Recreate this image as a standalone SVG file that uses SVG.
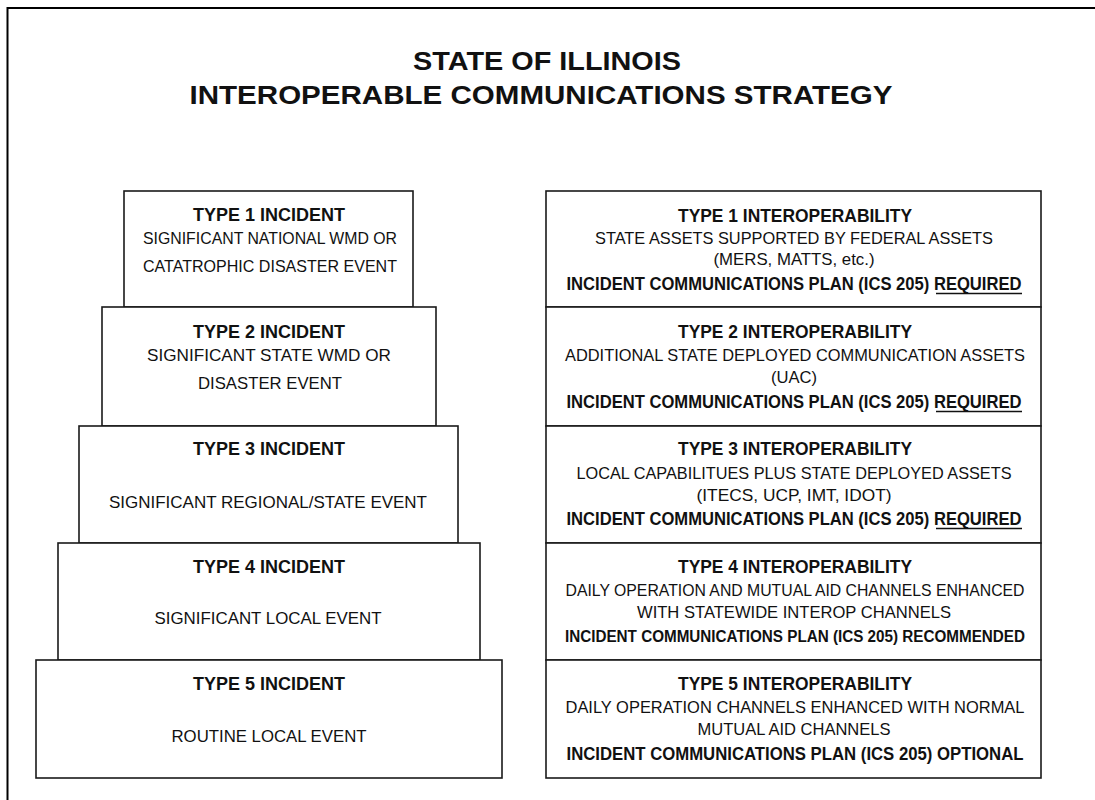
<svg xmlns="http://www.w3.org/2000/svg" width="1095" height="800" viewBox="0 0 1095 800">
<style>
  .bg { fill: #ffffff; }
  .frame { fill: none; stroke: #000; stroke-width: 2; }
  .box { fill: #ffffff; stroke: #1a1a1a; stroke-width: 1.6; }
  text { font-family: "Liberation Sans Narrow", "Liberation Sans", Arial, sans-serif; fill: #111; text-anchor: middle; }
  .title { font-size: 26px; font-weight: bold; }
  .hd { font-size: 19px; font-weight: bold; }
  .bd { font-size: 17px; }
  .bb { font-size: 18px; font-weight: bold; }
  .bs { font-size: 16px; font-weight: bold; }
  .ul { stroke: #111; stroke-width: 1.4; }
</style>
<rect class="bg" x="0" y="0" width="1095" height="800"/>
<rect class="frame" x="7.5" y="8" width="1200" height="900"/>

<g id="title">
  <text class="title" x="547" y="70" textLength="268" lengthAdjust="spacingAndGlyphs">STATE OF ILLINOIS</text>
  <text class="title" x="541" y="104" textLength="703" lengthAdjust="spacingAndGlyphs">INTEROPERABLE COMMUNICATIONS STRATEGY</text>
</g>

<g id="connectors"></g>

<g id="incident1">
  <rect class="box" x="124" y="191" width="289" height="116"/>
  <text class="hd" x="269" y="221" textLength="152" lengthAdjust="spacingAndGlyphs">TYPE 1 INCIDENT</text>
  <text class="bd" x="270" y="244" textLength="254" lengthAdjust="spacingAndGlyphs">SIGNIFICANT NATIONAL WMD OR</text>
  <text class="bd" x="270" y="272" textLength="254" lengthAdjust="spacingAndGlyphs">CATATROPHIC DISASTER EVENT</text>
</g>
<g id="incident2">
  <rect class="box" x="102" y="307" width="334" height="119"/>
  <text class="hd" x="269" y="338" textLength="152" lengthAdjust="spacingAndGlyphs">TYPE 2 INCIDENT</text>
  <text class="bd" x="269" y="361" textLength="244" lengthAdjust="spacingAndGlyphs">SIGNIFICANT STATE WMD OR</text>
  <text class="bd" x="270" y="389" textLength="144" lengthAdjust="spacingAndGlyphs">DISASTER EVENT</text>
</g>
<g id="incident3">
  <rect class="box" x="79" y="426" width="379" height="117"/>
  <text class="hd" x="269" y="455" textLength="152" lengthAdjust="spacingAndGlyphs">TYPE 3 INCIDENT</text>
  <text class="bd" x="268" y="508" textLength="318" lengthAdjust="spacingAndGlyphs">SIGNIFICANT REGIONAL/STATE EVENT</text>
</g>
<g id="incident4">
  <rect class="box" x="58" y="543" width="422" height="117"/>
  <text class="hd" x="269" y="573" textLength="152" lengthAdjust="spacingAndGlyphs">TYPE 4 INCIDENT</text>
  <text class="bd" x="268" y="624" textLength="227" lengthAdjust="spacingAndGlyphs">SIGNIFICANT LOCAL EVENT</text>
</g>
<g id="incident5">
  <rect class="box" x="36" y="660" width="466" height="118"/>
  <text class="hd" x="269" y="690" textLength="152" lengthAdjust="spacingAndGlyphs">TYPE 5 INCIDENT</text>
  <text class="bd" x="269" y="742" textLength="195" lengthAdjust="spacingAndGlyphs">ROUTINE LOCAL EVENT</text>
</g>

<g id="interop1">
  <rect class="box" x="546" y="191" width="495" height="116"/>
  <text class="hd" x="795" y="222" textLength="234" lengthAdjust="spacingAndGlyphs">TYPE 1 INTEROPERABILITY</text>
  <text class="bd" x="794" y="244" textLength="398" lengthAdjust="spacingAndGlyphs">STATE ASSETS SUPPORTED BY FEDERAL ASSETS</text>
  <text class="bd" x="794" y="265" textLength="161" lengthAdjust="spacingAndGlyphs">(MERS, MATTS, etc.)</text>
  <text class="bb" x="794" y="290" textLength="455" lengthAdjust="spacingAndGlyphs">INCIDENT COMMUNICATIONS PLAN (ICS 205) REQUIRED</text>
  <line class="ul" x1="936" y1="293.5" x2="1022" y2="293.5"/>
</g>
<g id="interop2">
  <rect class="box" x="546" y="307" width="495" height="119"/>
  <text class="hd" x="795" y="338" textLength="234" lengthAdjust="spacingAndGlyphs">TYPE 2 INTEROPERABILITY</text>
  <text class="bd" x="795" y="361" textLength="460" lengthAdjust="spacingAndGlyphs">ADDITIONAL STATE DEPLOYED COMMUNICATION ASSETS</text>
  <text class="bd" x="794" y="383" textLength="46" lengthAdjust="spacingAndGlyphs">(UAC)</text>
  <text class="bb" x="794" y="408" textLength="455" lengthAdjust="spacingAndGlyphs">INCIDENT COMMUNICATIONS PLAN (ICS 205) REQUIRED</text>
  <line class="ul" x1="936" y1="411.5" x2="1022" y2="411.5"/>
</g>
<g id="interop3">
  <rect class="box" x="546" y="426" width="495" height="117"/>
  <text class="hd" x="795" y="455" textLength="234" lengthAdjust="spacingAndGlyphs">TYPE 3 INTEROPERABILITY</text>
  <text class="bd" x="794" y="479" textLength="435" lengthAdjust="spacingAndGlyphs">LOCAL CAPABILITUES PLUS STATE DEPLOYED ASSETS</text>
  <text class="bd" x="794" y="501" textLength="195" lengthAdjust="spacingAndGlyphs">(ITECS, UCP, IMT, IDOT)</text>
  <text class="bb" x="794" y="525" textLength="455" lengthAdjust="spacingAndGlyphs">INCIDENT COMMUNICATIONS PLAN (ICS 205) REQUIRED</text>
  <line class="ul" x1="936" y1="528.5" x2="1022" y2="528.5"/>
</g>
<g id="interop4">
  <rect class="box" x="546" y="543" width="495" height="117"/>
  <text class="hd" x="795" y="573" textLength="234" lengthAdjust="spacingAndGlyphs">TYPE 4 INTEROPERABILITY</text>
  <text class="bd" x="795" y="596" textLength="459" lengthAdjust="spacingAndGlyphs">DAILY OPERATION AND MUTUAL AID CHANNELS ENHANCED</text>
  <text class="bd" x="794" y="618" textLength="314" lengthAdjust="spacingAndGlyphs">WITH STATEWIDE INTEROP CHANNELS</text>
  <text class="bs" x="795" y="642" textLength="460" lengthAdjust="spacingAndGlyphs">INCIDENT COMMUNICATIONS PLAN (ICS 205) RECOMMENDED</text>
</g>
<g id="interop5">
  <rect class="box" x="546" y="660" width="495" height="118"/>
  <text class="hd" x="795" y="690" textLength="234" lengthAdjust="spacingAndGlyphs">TYPE 5 INTEROPERABILITY</text>
  <text class="bd" x="795" y="713" textLength="459" lengthAdjust="spacingAndGlyphs">DAILY OPERATION CHANNELS ENHANCED WITH NORMAL</text>
  <text class="bd" x="794" y="735" textLength="193" lengthAdjust="spacingAndGlyphs">MUTUAL AID CHANNELS</text>
  <text class="bb" x="795" y="760" textLength="457" lengthAdjust="spacingAndGlyphs">INCIDENT COMMUNICATIONS PLAN (ICS 205) OPTIONAL</text>
</g>
</svg>
